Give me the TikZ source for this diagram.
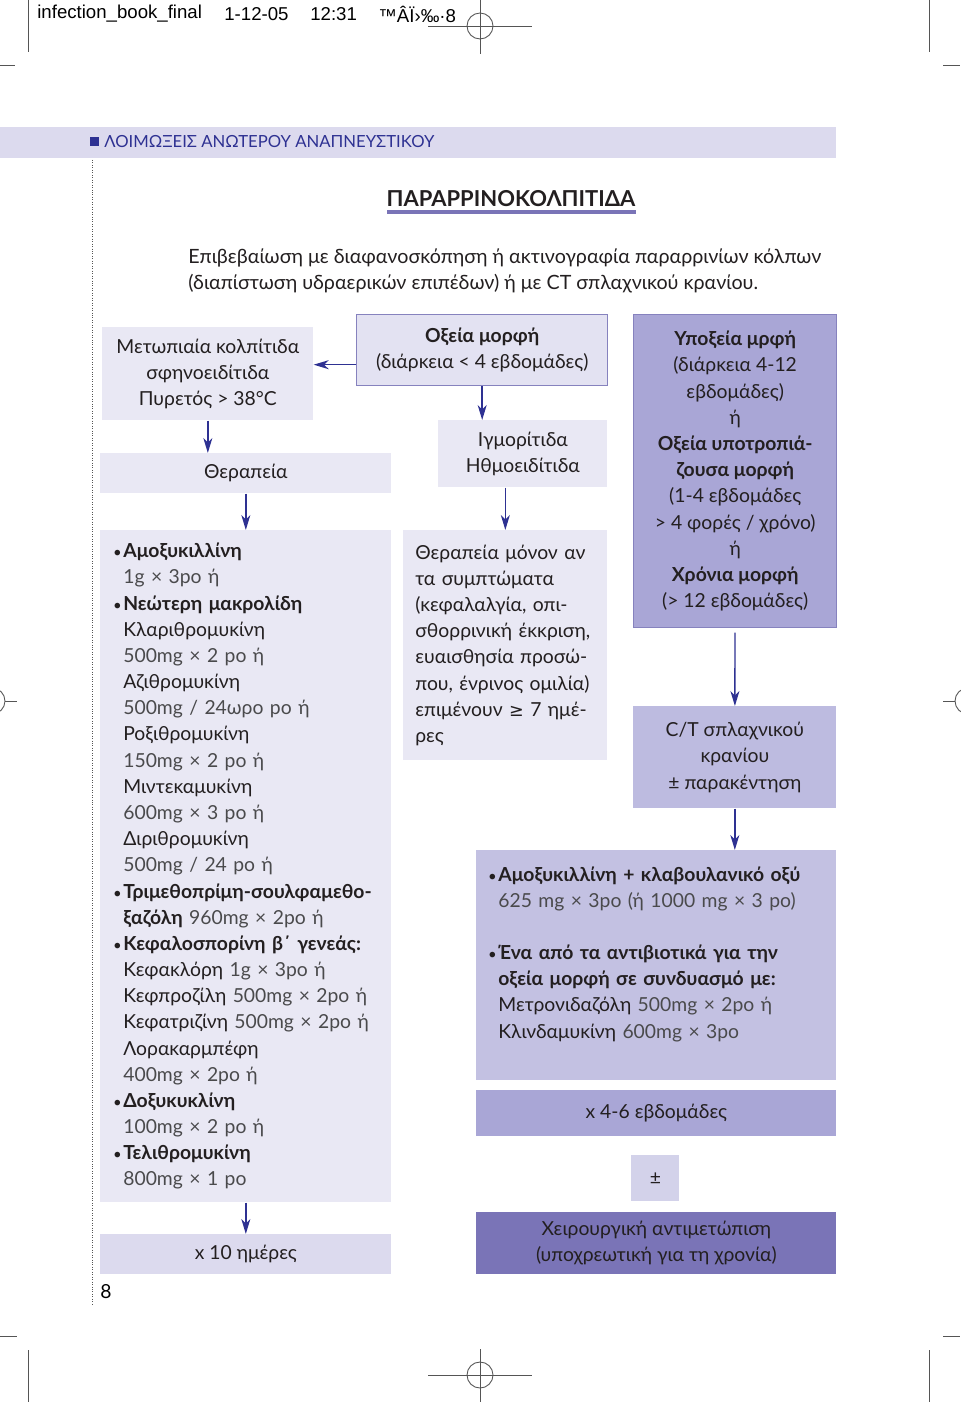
\documentclass[tikz,border=0pt]{standalone}
\usepackage{fontspec}
\setmainfont{Lato}
\newfontfamily\hdrfont{Liberation Sans}
\newfontfamily\symfont{DejaVu Sans}
\usetikzlibrary{positioning,arrows.meta}

\definecolor{navy}{HTML}{2E3192}
\definecolor{inkgray}{HTML}{231F20}
\definecolor{dosegray}{HTML}{4A4A4C}
\definecolor{cropgray}{HTML}{555555}
\definecolor{paleLav}{HTML}{E9E8F4}
\definecolor{bandLav}{HTML}{DCDAEE}
\definecolor{headLav}{HTML}{E3E2F2}
\definecolor{pmLav}{HTML}{D3D2EA}
\definecolor{softLav}{HTML}{C3C1E2}
\definecolor{ctLav}{HTML}{BDBBE0}
\definecolor{midLav}{HTML}{A9A6D6}
\definecolor{deepLav}{HTML}{7A74B7}
\definecolor{edgeLav}{HTML}{8682BE}

\newcommand{\bul}{\makebox[0.22cm][l]{\hspace{0.4pt}{\fontsize{8.5}{8.5}\selectfont\textbullet}}}
\newcommand{\ind}{\hspace*{0.22cm}}
\newcommand{\dose}[1]{{\color{dosegray}#1}}

\begin{document}
\begin{tikzpicture}[
    x=0.02cm, y=-0.02cm,
    every node/.style={text=inkgray},
    box/.style={rectangle, anchor=north west, inner sep=0pt, align=center, font=\fontsize{11}{14.9}\selectfont},
    listbox/.style={box, align=left, inner xsep=0.24cm},
    arrow/.style={-{Stealth[length=3mm, width=1.8mm, inset=0.9mm]}, line width=0.8pt, draw=navy},
    crop/.style={draw=cropgray, line width=0.5pt},
    hdr/.style={anchor=west, inner sep=0pt, font=\hdrfont\fontsize{10.6}{12}\selectfont, text=black}
]
\useasboundingbox (0,0) rectangle (960,1402);

% printer marks
\draw[crop] (28,0) -- (28,52);
\draw[crop] (0,65) -- (15,65);
\draw[crop] (929,0) -- (929,52);
\draw[crop] (943,65) -- (960,65);
\draw[crop] (480,26) circle (13);
\draw[crop] (428,26) -- (532,26);
\draw[crop] (480,0) -- (480,54);
\draw[crop] (-8,701) circle (13);
\draw[crop] (5,701) -- (17,701);
\draw[crop] (968,701) circle (13);
\draw[crop] (943,701) -- (955,701);
\draw[crop] (0,1336) -- (17,1336);
\draw[crop] (943,1336) -- (960,1336);
\draw[crop] (28,1350) -- (28,1402);
\draw[crop] (929,1350) -- (929,1402);
\draw[crop] (480,1375) circle (13);
\draw[crop] (428,1375) -- (532,1375);
\draw[crop] (480,1349) -- (480,1402);

\node[hdr] (hfile) at (37,14) {infection\_book\_final};
\node[hdr] (hdate) at (224,14) {1-12-05};
\node[hdr] (htime) at (310,14) {12:31};
\node[hdr] (hcode) at (378,14) {™ÂÏ›‰·8};

% section band
\fill[bandLav] (0,127) rectangle (836,158);
\fill[navy] (90,137) rectangle (99,146);
\node[anchor=west, inner sep=0pt, text=navy, font=\fontsize{9.5}{12}\selectfont] (section) at (104,142) {ΛΟΙΜΩΞΕΙΣ ΑΝΩΤΕΡΟΥ ΑΝΑΠΝΕΥΣΤΙΚΟΥ};
\draw[cropgray, densely dotted, line width=0.4pt] (92,160) -- (92,1305);

% title
\node[inner sep=0pt, font=\bfseries\fontsize{12.5}{14}\selectfont] (title) at (511,199) {ΠΑΡΑΡΡΙΝΟΚΟΛΠΙΤΙΔΑ};
\fill[deepLav] (387,210) rectangle (636,214);
\node[anchor=west, inner sep=0pt, align=left, font=\fontsize{11.2}{14.9}\selectfont] (intro) at (188,271)
    {Επιβεβαίωση με διαφανοσκόπηση ή ακτινογραφία παραρρινίων κόλπων\\
     (διαπίστωση υδραερικών επιπέδων) ή με CT σπλαχνικού κρανίου.};

% boxes
\node[box, fill=paleLav, minimum width=4.22cm, minimum height=1.86cm] (frontal) at (102,327)
    {Μετωπιαία κολπίτιδα\\σφηνοειδίτιδα\\Πυρετός > 38°C};
\node[box, fill=headLav, draw=edgeLav, line width=0.8pt, minimum width=5.02cm, minimum height=1.42cm] (acute) at (356,314)
    {\textbf{Οξεία μορφή}\\(διάρκεια < 4 εβδομάδες)};
\node[box, fill=midLav, draw=edgeLav, line width=0.8pt, minimum width=4.06cm, minimum height=6.26cm] (subacute) at (633,314)
    {\textbf{Υποξεία μρφή}\\(διάρκεια 4-12\\εβδομάδες)\\ή\\\textbf{Οξεία υποτροπιά-}\\\textbf{ζουσα μορφή}\\(1-4 εβδομάδες\\> 4 φορές / χρόνο)\\ή\\\textbf{Χρόνια μορφή}\\(> 12 εβδομάδες)};
\node[box, fill=paleLav, minimum width=5.82cm, minimum height=0.8cm] (therapy) at (100,453) {Θεραπεία};
\node[box, fill=paleLav, minimum width=3.38cm, minimum height=1.34cm] (maxill) at (438,420)
    {Ιγμορίτιδα\\Ηθμοειδίτιδα};

\node[listbox, fill=paleLav, text width=5.34cm, minimum width=5.82cm, minimum height=13.44cm] (leftlist) at (100,530)
    {\bul\textbf{Αμοξυκιλλίνη}\\
     \ind\dose{1g × 3po ή}\\
     \bul\textbf{Νεώτερη μακρολίδη}\\
     \ind Κλαριθρομυκίνη\\
     \ind\dose{500mg × 2 po ή}\\
     \ind Αζιθρομυκίνη\\
     \ind\dose{500mg / 24ωρο po ή}\\
     \ind Ροξιθρομυκίνη\\
     \ind\dose{150mg × 2 po ή}\\
     \ind Μιντεκαμυκίνη\\
     \ind\dose{600mg × 3 po ή}\\
     \ind Διριθρομυκίνη\\
     \ind\dose{500mg / 24 po ή}\\
     \bul\textbf{Τριμεθοπρίμη-σουλφαμεθο-}\\
     \ind\textbf{ξαζόλη} \dose{960mg × 2po ή}\\
     \bul\textbf{Κεφαλοσπορίνη β΄ γενεάς:}\\
     \ind Κεφακλόρη \dose{1g × 3po ή}\\
     \ind Κεφπροζίλη \dose{500mg × 2po ή}\\
     \ind Κεφατριζίνη \dose{500mg × 2po ή}\\
     \ind Λορακαρμπέφη\\
     \ind\dose{400mg × 2po ή}\\
     \bul\textbf{Δοξυκυκλίνη}\\
     \ind\dose{100mg × 2 po ή}\\
     \bul\textbf{Τελιθρομυκίνη}\\
     \ind\dose{800mg × 1 po}};

\node[listbox, fill=paleLav, text width=3.6cm, minimum width=4.08cm, minimum height=4.6cm] (midbox) at (403,530)
    {Θεραπεία μόνον αν\\τα συμπτώματα\\(κεφαλαλγία, οπι-\\σθορρινική έκκριση,\\ευαισθησία προσώ-\\που, ένρινος ομιλία)\\επιμένουν {\symfont\fontsize{10}{10}\selectfont ≥} 7 ημέ-\\ρες};

\node[box, fill=ctLav, minimum width=4.06cm, minimum height=2.04cm] (ct) at (633,706)
    {C/T σπλαχνικού\\κρανίου\\± παρακέντηση};

\node[listbox, fill=softLav, inner xsep=0.22cm, text width=6.76cm, minimum width=7.2cm, minimum height=4.6cm] (rightlist) at (476,850)
    {\bul\textbf{Αμοξυκιλλίνη + κλαβουλανικό οξύ}\\
     \ind\dose{625 mg × 3po (ή 1000 mg × 3 po)}\\
     \mbox{}\\
     \bul\textbf{Ένα από τα αντιβιοτικά για την}\\
     \ind\textbf{οξεία μορφή σε συνδυασμό με:}\\
     \ind Μετρονιδαζόλη \dose{500mg × 2po ή}\\
     \ind Κλινδαμυκίνη \dose{600mg × 3po}\\
     \mbox{}};

\node[box, fill=midLav, minimum width=7.2cm, minimum height=0.92cm] (weeks) at (476,1090) {x 4-6 εβδομάδες};
\node[box, fill=pmLav, minimum width=0.96cm, minimum height=0.92cm] (pm) at (631,1155) {±};
\node[box, fill=deepLav, minimum width=7.2cm, minimum height=1.24cm] (surgery) at (476,1212)
    {Χειρουργική αντιμετώπιση\\(υποχρεωτική για τη χρονία)};
\node[box, fill=bandLav, minimum width=5.82cm, minimum height=0.8cm] (days) at (100,1234) {x 10 ημέρες};

\node[inner sep=0pt, font=\fontsize{11}{13}\selectfont, text=black] (page) at (106,1292) {8};

% connectors
\coordinate (acuteL) at ([yshift=-0.29cm]acute.west);
\draw[arrow] (acuteL) -- (acuteL -| frontal.east);
\draw[arrow] (frontal.south) -- (frontal.south |- therapy.north);
\draw[arrow] (therapy) -- (leftlist);
\draw[arrow] (acute.south) -- (acute.south |- maxill.north);
\draw[arrow] (midbox.north |- maxill.south) -- (midbox.north);
\draw[arrow, shorten <=2.5pt] (subacute) -- (ct);
\draw[arrow] (ct.south) -- (ct.south |- rightlist.north);
\draw[arrow] (leftlist) -- (days);

\end{tikzpicture}
\end{document}
